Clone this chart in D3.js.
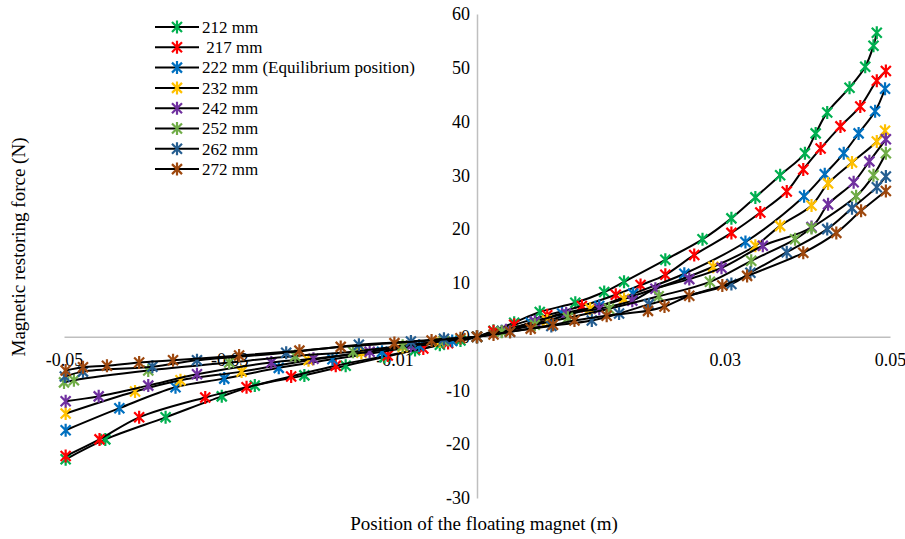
<!DOCTYPE html>
<html>
<head>
<meta charset="utf-8">
<script src="https://cdn.jsdelivr.net/npm/d3@7"></script>
<style>
  body { margin: 0; background: #fff; }
  svg { display: block; }
  text { font-family: "Liberation Serif", "Times New Roman", "DejaVu Serif", serif; fill: #000; }
</style>
</head>
<body>
<div id="chart"></div>
<script>
// Series names and colours (legend order)
var seriesNames = ["212 mm", " 217 mm", "222 mm (Equilibrium position)", "232 mm", "242 mm", "252 mm", "262 mm", "272 mm"];
var seriesColors = ["#00b050", "#ff0000", "#0070c0", "#ffc000", "#7030a0", "#70ad47", "#255e91", "#9e480e"];

// Position of the floating magnet (m) and restoring force (N)
var pos212 = [-0.0498, -0.0450, -0.0377, -0.0309, -0.0269, -0.0209, -0.0159, -0.0112, -0.0075, -0.0045, -0.002, 0, 0.002, 0.0045, 0.0076, 0.0119, 0.0154, 0.0178, 0.0228, 0.0273, 0.0308, 0.0337, 0.0367, 0.0397, 0.0410, 0.0424, 0.0451, 0.0470, 0.0480, 0.0484];
var force212 = [-22.8, -19.1, -15.0, -11.1, -9.1, -7.2, -5.4, -3.8, -2.5, -1.5, -0.7, 0, 1.1, 2.6, 4.6, 6.3, 8.3, 10.2, 14.3, 18.1, 22.0, 25.9, 30.0, 34.1, 37.8, 41.7, 46.3, 50.2, 54.1, 56.5];

var pos217 = [-0.0498, -0.0457, -0.0409, -0.0329, -0.0279, -0.0225, -0.0171, -0.0108, -0.0065, -0.0035, 0, 0.002, 0.0045, 0.0085, 0.0127, 0.0168, 0.0198, 0.0228, 0.0263, 0.0308, 0.0343, 0.0375, 0.0395, 0.0416, 0.0440, 0.0464, 0.0484, 0.0495];
var force217 = [-22.2, -19.1, -15.0, -11.3, -9.4, -7.4, -5.4, -3.5, -2.2, -1.2, 0, 1.0, 2.2, 4.0, 5.7, 7.8, 9.6, 11.5, 15.2, 19.3, 23.1, 27.0, 31.1, 35.0, 39.1, 42.8, 47.6, 49.4];

var pos222 = [-0.0498, -0.0433, -0.0365, -0.0306, -0.0240, -0.0175, -0.0115, -0.007, -0.003, 0, 0.003, 0.0065, 0.0103, 0.0148, 0.0189, 0.0251, 0.0325, 0.0396, 0.0421, 0.0444, 0.0462, 0.0482, 0.0494];
var force222 = [-17.4, -13.3, -9.4, -7.8, -5.8, -4.2, -2.8, -1.7, -0.8, 0, 1.0, 2.6, 4.3, 5.7, 8.0, 11.7, 17.6, 26.1, 30.2, 34.1, 37.8, 41.9, 46.1];

var pos232 = [-0.0498, -0.0414, -0.0359, -0.0285, -0.0204, -0.014, -0.009, -0.0045, 0, 0.0035, 0.0085, 0.0137, 0.0178, 0.0286, 0.0337, 0.0367, 0.0405, 0.0425, 0.0454, 0.0484, 0.0494];
var force232 = [-14.3, -10.2, -8.1, -6.5, -4.4, -3.0, -1.9, -0.9, 0, 1.1, 3.0, 5.2, 7.0, 13.0, 16.9, 20.6, 24.4, 28.5, 32.4, 36.3, 38.3];

var pos242 = [-0.0498, -0.0458, -0.0398, -0.0339, -0.0249, -0.0198, -0.013, -0.008, -0.004, 0, 0.0035, 0.0070, 0.0108, 0.0148, 0.0188, 0.0216, 0.0257, 0.0296, 0.0346, 0.0405, 0.0425, 0.0456, 0.0475, 0.0495];
var force242 = [-12.0, -11.1, -9.1, -7.0, -4.8, -4.1, -2.8, -1.7, -0.8, 0, 1.2, 2.8, 4.3, 5.2, 6.7, 8.9, 10.7, 12.8, 16.9, 20.4, 24.6, 28.7, 32.6, 36.7];

var pos252 = [-0.0500, -0.0488, -0.0398, -0.030, -0.022, -0.015, -0.009, -0.004, 0, 0.003, 0.007, 0.011, 0.016, 0.022, 0.0282, 0.0332, 0.0385, 0.0405, 0.0459, 0.0480, 0.0495];
var force252 = [-8.5, -8.1, -6.3, -4.8, -3.6, -2.8, -1.7, -0.8, 0, 0.9, 2.2, 3.5, 5.2, 7.5, 10.2, 14.1, 18.1, 20.2, 26.1, 30.0, 34.1];

var pos262 = [-0.0499, -0.0477, -0.0393, -0.0339, -0.0231, -0.0143, -0.008, -0.004, 0, 0.004, 0.009, 0.0139, 0.0172, 0.0208, 0.0308, 0.0331, 0.0375, 0.0424, 0.0454, 0.0484, 0.0495];
var force262 = [-7.4, -6.5, -5.6, -4.4, -3.0, -1.5, -0.9, -0.4, 0, 0.9, 2.0, 3.0, 4.3, 6.0, 9.8, 11.9, 15.7, 20.0, 23.9, 27.8, 29.8];

var pos272 = [-0.0498, -0.0477, -0.0448, -0.0409, -0.0368, -0.0288, -0.0215, -0.0165, -0.010, -0.0055, -0.002, 0, 0.002, 0.004, 0.0065, 0.0092, 0.0118, 0.0157, 0.0207, 0.0227, 0.0257, 0.0297, 0.0327, 0.0395, 0.0435, 0.0465, 0.0495];
var force272 = [-6.3, -5.7, -5.4, -4.8, -4.4, -3.5, -2.6, -1.9, -1.2, -0.7, -0.3, 0, 0.4, 0.9, 1.5, 2.2, 3.0, 3.9, 4.8, 5.6, 7.6, 9.5, 11.3, 15.6, 19.3, 23.4, 27.1];

var xTicks = [-0.05, -0.03, -0.01, 0.01, 0.03, 0.05];
var yTicks = [-30, -20, -10, 0, 10, 20, 30, 40, 50, 60];

var positions = [pos212, pos217, pos222, pos232, pos242, pos252, pos262, pos272];
var forces = [force212, force217, force222, force232, force242, force252, force262, force272];

var series = seriesNames.map(function(name, i) {
    return {
        name: name,
        color: seriesColors[i],
        points: positions[i].map(function(p, j) { return {x: p, y: forces[i][j]}; })
    };
});

var width = 905, height = 539;

var svg = d3.select("#chart")
    .append("svg")
    .attr("width", width)
    .attr("height", height);

var x = d3.scaleLinear().domain([-0.05, 0.05]).range([64, 890]);
var y = d3.scaleLinear().domain([-30, 60]).range([498, 14]);

// Axes cross at zero, no tick marks, grey axis lines
var xAxis = svg.append("g")
    .attr("transform", "translate(0," + y(0) + ")")
    .call(d3.axisBottom(x).tickValues(xTicks).tickSize(0).tickPadding(17)
        .tickFormat(function(d) { return d3.format(".2f")(d).replace("−", "-"); }));

var yAxis = svg.append("g")
    .attr("transform", "translate(" + x(0) + ",0)")
    .call(d3.axisLeft(y).tickValues(yTicks).tickSize(0).tickPadding(7)
        .tickFormat(function(d) { return String(d); }));

[xAxis, yAxis].forEach(function(ax) {
    ax.select(".domain").attr("stroke", "#bfbfbf").attr("stroke-width", 1.5);
    ax.selectAll("text")
        .style("font-family", "'Liberation Serif', 'Times New Roman', serif")
        .style("font-size", "18px")
        .attr("fill", "#000");
});

// Axis titles
svg.append("text")
    .attr("x", 484)
    .attr("y", 530)
    .attr("text-anchor", "middle")
    .style("font-size", "19px")
    .text("Position of the floating magnet (m)");

svg.append("text")
    .attr("transform", "translate(25,247) rotate(-90)")
    .attr("text-anchor", "middle")
    .style("font-size", "19px")
    .text("Magnetic restoring force (N)");

// Star marker (Excel style asterisk)
var starPath = "M-5,-5L5,5M-5,5L5,-5M0,-6.5L0,6.5";

var line = d3.line()
    .x(function(d) { return x(d.x); })
    .y(function(d) { return y(d.y); })
    .curve(d3.curveCatmullRom.alpha(0.5));

series.forEach(function(s) {
    var g = svg.append("g");
    g.append("path")
        .datum(s.points)
        .attr("d", line)
        .attr("fill", "none")
        .attr("stroke", "#000")
        .attr("stroke-width", 2);

    g.selectAll("path.marker")
        .data(s.points)
        .enter()
        .append("path")
        .attr("class", "marker")
        .attr("transform", function(d) { return "translate(" + x(d.x) + "," + y(d.y) + ")"; })
        .attr("d", starPath)
        .attr("stroke", s.color)
        .attr("stroke-width", 2.2)
        .attr("fill", "none");
});

// Legend
var legend = svg.append("g").attr("transform", "translate(155,27)");

var rows = legend.selectAll("g")
    .data(series)
    .enter()
    .append("g")
    .attr("transform", function(d, i) { return "translate(0," + (i * 20.3) + ")"; });

rows.append("line")
    .attr("x1", 0).attr("x2", 44)
    .attr("y1", 0).attr("y2", 0)
    .attr("stroke", "#000")
    .attr("stroke-width", 2);

rows.append("path")
    .attr("transform", "translate(22,0)")
    .attr("d", starPath)
    .attr("stroke", function(d) { return d.color; })
    .attr("stroke-width", 2.2)
    .attr("fill", "none");

rows.append("text")
    .attr("x", 47)
    .attr("y", 0)
    .attr("dy", "0.34em")
    .style("font-size", "17px")
    .style("white-space", "pre")
    .attr("xml:space", "preserve")
    .text(function(d) { return d.name; });
</script>
</body>
</html>
